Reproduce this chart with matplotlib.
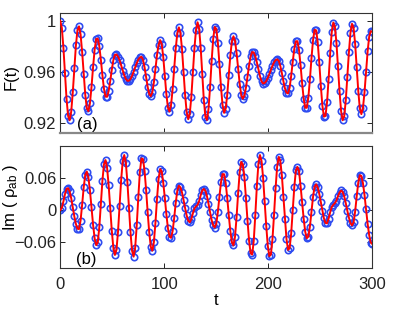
import numpy as np
import matplotlib
matplotlib.use("Agg")
import matplotlib.pyplot as plt

plt.rcParams['font.family'] = ['Liberation Sans', 'DejaVu Sans']
plt.rcParams['mathtext.fontset'] = 'custom'
plt.rcParams['mathtext.rm'] = 'Liberation Sans'
plt.rcParams['mathtext.it'] = 'Liberation Sans:italic'

# sample times (one marker every 1.5 time units)
t = np.arange(201) * 1.5

# panel (a): fidelity F(t)
F = [1.000, 0.9945, 0.979, 0.959, 0.939, 0.9256, 0.9222, 0.929, 0.944, 0.9628,
     0.9808, 0.9928, 0.9958, 0.9895, 0.9758, 0.9584, 0.9422, 0.9315, 0.9293, 0.9355,
     0.9483, 0.9637, 0.9775, 0.9858, 0.9863, 0.9803, 0.9697, 0.9574, 0.9468, 0.9407,
     0.9406, 0.9452, 0.9529, 0.9617, 0.9693, 0.9735, 0.9738, 0.9721, 0.9692, 0.9653,
     0.9612, 0.9575, 0.9546, 0.9531, 0.9532, 0.9546, 0.9570, 0.9602, 0.9637, 0.9669,
     0.9697, 0.9714, 0.9720, 0.9697, 0.9638, 0.9560, 0.9484, 0.9428, 0.9410, 0.9441,
     0.9520, 0.9627, 0.9733, 0.9814, 0.9850, 0.9819, 0.9717, 0.9570, 0.9425, 0.9321,
     0.9290, 0.9342, 0.9465, 0.9625, 0.9785, 0.9902, 0.9950, 0.9908, 0.9782, 0.9602,
     0.9422, 0.9285, 0.9230, 0.9274, 0.9407, 0.9597, 0.9788, 0.9931, 0.9990, 0.9940,
     0.9789, 0.9583, 0.9383, 0.9251, 0.9224, 0.9310, 0.9480, 0.9685, 0.9859, 0.9953,
     0.9938, 0.9831, 0.9663, 0.9483, 0.9342, 0.9280, 0.9312, 0.9420, 0.9575, 0.9730,
     0.9842, 0.9880, 0.9843, 0.9750, 0.9627, 0.9507, 0.9418, 0.9390, 0.9415, 0.9477,
     0.9563, 0.9651, 0.9722, 0.9757, 0.9754, 0.9725, 0.9676, 0.9620, 0.9567, 0.9527,
     0.9510, 0.9514, 0.9529, 0.9554, 0.9584, 0.9617, 0.9649, 0.9675, 0.9693, 0.9700,
     0.9689, 0.9650, 0.9593, 0.9529, 0.9472, 0.9438, 0.9432, 0.9477, 0.9570, 0.9681,
     0.9782, 0.9841, 0.9842, 0.9774, 0.9655, 0.9514, 0.9392, 0.9320, 0.9320, 0.9400,
     0.9542, 0.9707, 0.9849, 0.9931, 0.9927, 0.9834, 0.9675, 0.9493, 0.9337, 0.9250,
     0.9256, 0.9365, 0.9548, 0.9748, 0.9912, 0.9988, 0.9957, 0.9831, 0.9645, 0.9449,
     0.9293, 0.9222, 0.9253, 0.9377, 0.9560, 0.9754, 0.9908, 0.9978, 0.9946, 0.9822,
     0.9638, 0.9453, 0.9315, 0.9270, 0.9318, 0.9440, 0.9600, 0.9761, 0.9877, 0.9920,
     0.9915]

# panel (b): Im(rho_ab)
im_rho = [0.0, 0.0045, 0.0163, 0.0301, 0.0399, 0.0415, 0.0352, 0.0223, 0.0054, -0.0121,
          -0.0263, -0.0353, -0.0359, -0.0197, 0.0103, 0.0428, 0.0666, 0.0727, 0.0617, 0.0373,
          0.0052, -0.0274, -0.0531, -0.0662, -0.0612, -0.0327, 0.0109, 0.0555, 0.0867, 0.0945,
          0.0797, 0.0466, 0.0036, -0.0386, -0.0710, -0.0848, -0.0750, -0.0410, 0.0078, 0.0568,
          0.0921, 0.1040, 0.0896, 0.0531, 0.0047, -0.0423, -0.0769, -0.0880, -0.0709, -0.0290,
          0.0239, 0.0714, 0.0976, 0.0963, 0.0747, 0.0384, -0.0041, -0.0423, -0.0692, -0.0767,
          -0.0606, -0.0235, 0.0216, 0.0591, 0.0775, 0.0733, 0.0517, 0.0230, -0.0082, -0.0345,
          -0.0502, -0.0524, -0.0398, -0.0151, 0.0136, 0.0366, 0.0460, 0.0429, 0.0334, 0.0193,
          0.0038, -0.0101, -0.0199, -0.0230, -0.0170, -0.0060, 0.0030, 0.0070, 0.0100, 0.0170,
          0.0280, 0.0370, 0.0400, 0.0364, 0.0265, 0.0120, -0.0040, -0.0186, -0.0290, -0.0330,
          -0.0256, -0.0037, 0.0254, 0.0523, 0.0681, 0.0677, 0.0514, 0.0234, -0.0096, -0.0400,
          -0.0610, -0.0667, -0.0505, -0.0133, 0.0324, 0.0713, 0.0910, 0.0863, 0.0621, 0.0231,
          -0.0198, -0.0577, -0.0814, -0.0841, -0.0583, -0.0096, 0.0453, 0.0879, 0.1040, 0.0928,
          0.0612, 0.0170, -0.0294, -0.0672, -0.0871, -0.0841, -0.0552, -0.0094, 0.0412, 0.0818,
          0.1004, 0.0937, 0.0665, 0.0254, -0.0177, -0.0549, -0.0752, -0.0721, -0.0442, -0.0007,
          0.0434, 0.0748, 0.0815, 0.0740, 0.0462, 0.0151, -0.0160, -0.0408, -0.0532, -0.0502,
          -0.0315, -0.0034, 0.0247, 0.0444, 0.0487, 0.0431, 0.0308, 0.0149, -0.0018, -0.0158,
          -0.0243, -0.0250, -0.0160, -0.0040, 0.0060, 0.0100, 0.0130, 0.0180, 0.0260, 0.0330,
          0.0370, 0.0342, 0.0259, 0.0131, -0.0013, -0.0143, -0.0245, -0.0289, -0.0234, -0.0027,
          0.0257, 0.0517, 0.0660, 0.0644, 0.0509, 0.0287, 0.0015, -0.0257, -0.0474, -0.0614,
          -0.0640]

xticks = [0, 100, 200, 300]
f_ticks = [0.92, 0.96, 1.0]
f_labels = ['0.92', '0.96', '1']
im_ticks = [-0.06, 0, 0.06]
im_labels = ['\u22120.06', '0', '0.06']

marker_col = '#2f4cf0'
line_col = '#ff0000'

fig = plt.figure(figsize=(4.15, 3.12), dpi=100)
ax1 = fig.add_axes([0.1453, 0.5728, 0.7518, 0.3865])
ax2 = fig.add_axes([0.1453, 0.1400, 0.7518, 0.3920])

for ax, y in [(ax1, F), (ax2, im_rho)]:
    ax.plot(t, y, 'o', ms=4.6, mfc='none', mec=marker_col, mew=1.2, zorder=2)
    ax.plot(t, y, '-', color=line_col, lw=1.4, zorder=3)
    ax.set_xlim(0, 300)
    ax.set_xticks(xticks)
    ax.tick_params(direction='in', top=True, right=True, length=3.5,
                   width=0.7, labelsize=12, pad=3, colors='#222222')
    for s in ax.spines.values():
        s.set_linewidth(0.8)
        s.set_color('#333333')

ax1.set_ylim(0.912, 1.0065)
ax1.set_yticks(f_ticks)
ax1.set_yticklabels(f_labels)
ax1.set_xticklabels([])
ax1.spines['bottom'].set_color('#888888')
ax1.spines['bottom'].set_linewidth(1.6)
ax1.set_ylabel('F(t)', fontsize=12)
ax1.yaxis.set_label_coords(-0.135, 0.47)
ax1.text(0.054, 0.07, '(a)', transform=ax1.transAxes, fontsize=12,
         ha='left', va='center')

ax2.set_ylim(-0.11, 0.121)
ax2.set_yticks(im_ticks)
ax2.set_yticklabels(im_labels)
ax2.tick_params(axis='x', pad=6)
ax2.set_xlabel('t', fontsize=12, labelpad=1)
ax2.set_ylabel('Im ( \u03c1$_{\\mathrm{ab}}$ )', fontsize=12)
ax2.yaxis.set_label_coords(-0.128, 0.58)
ax2.text(0.051, 0.072, '(b)', transform=ax2.transAxes, fontsize=12,
         ha='left', va='center')

fig.savefig('out.png', dpi=100)
